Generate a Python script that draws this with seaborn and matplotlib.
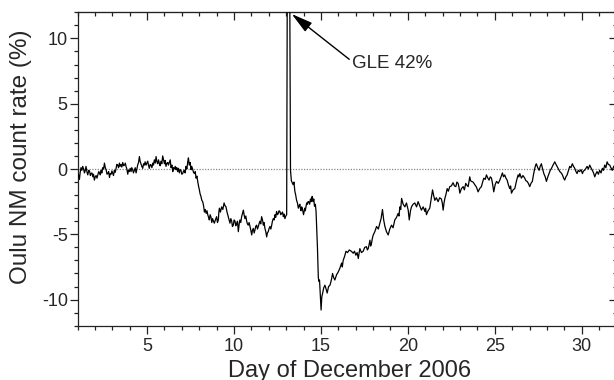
import numpy as np
import pandas as pd
import matplotlib
matplotlib.use("Agg")
import matplotlib.pyplot as plt
from matplotlib.ticker import MultipleLocator
import seaborn as sns

# ---- data (day of December 2006, % change) ----
days_quiet = [1.00, 1.11, 1.20, 1.30, 1.40, 1.49, 1.59, 1.70, 1.78, 1.88, 1.97,
              2.07, 2.17, 2.27, 2.36, 2.45, 2.55, 2.65, 2.74, 2.84, 2.93,
              3.03, 3.12, 3.22, 3.31, 3.41, 3.50, 3.60, 3.70, 3.79, 3.89, 3.98,
              4.08, 4.17, 4.27, 4.37, 4.46, 4.56, 4.65, 4.75, 4.85, 4.94,
              5.04, 5.13, 5.23, 5.33, 5.42, 5.52, 5.61, 5.71, 5.80, 5.90,
              6.00, 6.09, 6.19, 6.28, 6.38, 6.48, 6.57, 6.67, 6.76, 6.86, 6.95,
              7.05, 7.15, 7.24, 7.34, 7.43, 7.53, 7.62, 7.72, 7.82, 7.92]
pct_quiet = [-0.6, -0.8, 0.1, 0.2, -0.3, 0.2, -0.45, -0.2, -0.35, -0.6, -0.85,
             -0.5, -0.45, -0.3, -0.1, 0.1, 0.45, -0.1, -0.35, -0.65, -0.4,
             -0.35, -0.1, 0.05, 0.3, 0.45, 0.35, 0.5, 0.3, 0.2, -0.4, -0.2,
             -0.2, -0.05, -0.1, -0.3, 0.3, 0.95, 0.4, 0.05, 0.3, 0.3,
             0.6, 0.05, 0.3, 0.45, 0.7, 0.95, 0.4, 0.4, 0.6, 1.0,
             0.4, 0.2, 0.5, 0.5, 0.1, -0.2, 0.0, -0.05, -0.2, -0.3, -0.1,
             -0.35, -0.1, 0.2, 0.55, 0.3, -0.05, 0.0, -0.35, -0.7, -1.0]
days_quiet_mid = [1.05, 1.15, 1.25, 1.35, 1.45, 1.54, 1.65, 1.74, 1.83, 1.92,
                  2.02, 2.12, 2.22, 2.31, 2.40, 2.50, 2.60, 2.70, 2.79, 2.88, 2.98,
                  3.07, 3.17, 3.26, 3.36, 3.45, 3.55, 3.65, 3.75, 3.84, 3.93,
                  4.03, 4.12, 4.22, 4.32, 4.41, 4.51, 4.60, 4.70, 4.80, 4.89, 4.99,
                  5.08, 5.18, 5.28, 5.37, 5.47, 5.56, 5.66, 5.75, 5.85, 5.95,
                  6.04, 6.14, 6.23, 6.33, 6.43, 6.52, 6.62, 6.71, 6.81, 6.90,
                  7.00, 7.10, 7.19, 7.29, 7.38, 7.48, 7.57, 7.67, 7.77, 7.87, 7.96]
pct_quiet_mid = [-0.4, -0.3, -0.1, 0.0, -0.1, -0.2, -0.1, -0.5, -0.3, -0.4,
                 -0.6, -0.7, -0.2, -0.45, -0.3, 0.0, 0.1, -0.4, -0.2, -0.35, -0.15,
                 -0.5, -0.25, 0.35, 0.1, 0.2, 0.15, 0.25, 0.45, 0.0, -0.1,
                 0.05, 0.1, -0.3, 0.1, -0.05, 0.5, 0.6, 0.2, 0.4, 0.55, 0.45,
                 0.3, 0.35, 0.1, 0.3, 0.45, 0.6, 0.7, 0.25, 0.4, 0.7,
                 0.65, 0.45, 0.3, 0.7, 0.3, 0.1, 0.2, 0.1, 0.05, -0.05,
                 -0.4, -0.15, -0.3, 0.0, 0.85, 0.5, 0.2, -0.25, -0.2, -0.55, -1.3]

days_fd1 = [8.01, 8.10, 8.20, 8.30, 8.40, 8.49, 8.58, 8.68, 8.77, 8.87,
            9.00, 9.10, 9.16, 9.29, 9.43, 9.54, 9.67, 9.77, 9.87, 9.96,
            10.06, 10.15, 10.25, 10.34, 10.44, 10.54, 10.63, 10.73, 10.82, 10.92,
            11.02, 11.11, 11.21, 11.30, 11.40, 11.49, 11.59, 11.69, 11.78, 11.88,
            11.97, 12.07, 12.17, 12.26, 12.36, 12.45, 12.55, 12.64, 12.74, 12.84,
            12.93, 13.03]
pct_fd1 = [-1.6, -2.1, -2.5, -3.3, -3.4, -3.5, -3.9, -3.7, -3.8, -4.15,
           -3.65, -3.9, -3.0, -2.9, -2.6, -2.9, -3.65, -4.15, -4.0, -4.3,
           -4.0, -4.2, -4.8, -3.9, -3.65, -3.15, -3.8, -4.0, -4.3, -4.4,
           -5.05, -4.55, -4.65, -4.3, -4.4, -4.0, -3.65, -4.3, -4.55, -5.2,
           -4.8, -4.4, -4.3, -3.8, -3.5, -3.25, -3.4, -3.25, -3.4, -3.65,
           -3.8, -3.5]
days_fd1_mid = [8.05, 8.15, 8.25, 8.35, 8.45, 8.54, 8.63, 8.72, 8.82, 8.93,
                9.05, 9.13, 9.22, 9.36, 9.48, 9.60, 9.72, 9.82, 9.91, 10.01,
                10.10, 10.20, 10.30, 10.39, 10.49, 10.58, 10.68, 10.77, 10.87, 10.97,
                11.06, 11.16, 11.25, 11.35, 11.44, 11.54, 11.64, 11.73, 11.83, 11.92,
                12.02, 12.12, 12.21, 12.31, 12.40, 12.50, 12.59, 12.69, 12.79, 12.88,
                12.98]
pct_fd1_mid = [-1.9, -2.4, -2.8, -3.1, -3.2, -3.7, -3.5, -4.1, -4.0, -3.9,
               -4.1, -3.3, -3.3, -3.1, -2.8, -3.3, -3.9, -3.8, -4.4, -3.9,
               -4.35, -4.0, -4.2, -4.1, -3.4, -3.5, -3.6, -4.2, -4.1, -4.7,
               -4.7, -4.9, -4.4, -4.6, -4.2, -4.2, -3.9, -4.1, -4.8, -4.9,
               -4.55, -4.6, -4.0, -3.9, -3.7, -3.5, -3.2, -3.5, -3.3, -3.45,
               -3.6]

days_gle = [13.12]
pct_gle = [42.0]

days_fd2 = [13.25, 13.30, 13.40, 13.50, 13.60, 13.70, 13.79, 13.85, 13.93,
            14.00, 14.07, 14.14, 14.22, 14.30, 14.40, 14.46, 14.55, 14.63, 14.72,
            14.80, 14.85, 14.92, 15.01, 15.10, 15.23, 15.36, 15.52, 15.67, 15.80,
            15.99, 16.19, 16.28, 16.44, 16.63, 16.86, 17.01, 17.15, 17.24, 17.43,
            17.62, 17.72, 17.82, 17.91, 18.01, 18.20, 18.39, 18.54, 18.68, 18.87,
            19.06, 19.25, 19.44, 19.54, 19.64, 19.83, 20.02, 20.08, 20.21, 20.40,
            20.59, 20.78, 20.98, 21.07]
pct_fd2 = [-0.1, -0.9, -1.2, -1.7, -2.4, -3.0, -2.7, -3.2, -3.0,
           -3.5, -3.0, -2.9, -2.7, -2.5, -2.3, -2.25, -2.5, -2.85, -3.25,
           -6.0, -8.3, -8.5, -10.8, -9.5, -8.9, -9.5, -8.9, -8.0, -8.5,
           -7.9, -7.2, -7.0, -6.3, -6.2, -6.45, -6.6, -6.85, -6.1, -6.3,
           -5.95, -6.1, -5.45, -5.7, -5.05, -4.4, -4.15, -3.1, -4.4, -5.05,
           -4.3, -3.9, -3.4, -2.9, -2.25, -2.9, -3.15, -3.9, -2.9, -2.6,
           -2.5, -3.15, -3.25, -3.5]
days_fd2_mid = [13.45, 13.55, 13.65, 13.75, 13.82, 13.89, 13.97, 14.04, 14.10,
                14.18, 14.26, 14.35, 14.43, 14.50, 14.59, 14.68, 14.88, 15.05,
                15.16, 15.30, 15.44, 15.60, 15.73, 15.90, 16.09, 16.23, 16.36,
                16.53, 16.75, 16.93, 17.08, 17.20, 17.33, 17.52, 17.67, 17.77,
                17.86, 17.96, 18.10, 18.30, 18.46, 18.61, 18.77, 18.96, 19.15,
                19.35, 19.49, 19.59, 19.73, 19.92, 20.15, 20.30, 20.50, 20.68,
                20.88, 21.02, 21.16]
pct_fd2_mid = [-1.0, -2.0, -2.6, -2.8, -3.0, -2.9, -3.3, -3.2, -3.2,
               -2.6, -2.5, -2.7, -2.5, -2.1, -2.3, -2.7, -8.6, -9.8,
               -9.1, -9.2, -9.0, -8.5, -8.3, -8.1, -7.6, -7.5, -6.7,
               -6.4, -6.3, -6.3, -6.4, -6.4, -6.4, -6.0, -6.2, -5.8,
               -5.9, -5.3, -4.8, -4.6, -3.8, -3.9, -4.8, -4.6, -4.5,
               -3.7, -3.6, -3.1, -2.7, -2.6, -3.2, -2.7, -2.9, -2.8,
               -2.9, -3.0, -3.2]

days_rec = [21.26, 21.42, 21.55, 21.74, 21.93, 22.03, 22.13, 22.26, 22.41, 22.60,
            22.76, 22.89, 22.99, 23.18, 23.33, 23.47, 23.56, 23.66, 23.85, 24.04,
            24.23, 24.37, 24.52, 24.67, 24.81, 24.94, 25.10, 25.29, 25.44, 25.57,
            25.71, 25.86, 25.96, 26.15, 26.34, 26.44, 26.53, 26.72, 26.86, 27.01,
            27.16, 27.30, 27.39, 27.55, 27.68, 27.82, 27.97, 28.12, 28.26, 28.45,
            28.58, 28.74, 28.89, 29.02, 29.16, 29.31, 29.46, 29.60, 29.73, 29.88,
            30.04, 30.17, 30.31, 30.46, 30.61, 30.75, 30.88, 31.03, 31.19, 31.32,
            31.46, 31.61, 31.76, 31.84, 32.0]
pct_rec = [-3.0, -1.6, -2.4, -2.5, -2.3, -3.15, -2.25, -1.5, -1.35, -1.05,
           -1.35, -1.1, -1.85, -1.35, -1.1, -1.35, -0.6, -0.95, -1.2, -1.75,
           -1.35, -0.7, -0.45, -0.85, -0.7, -1.75, -0.95, -0.85, -0.3, -0.45,
           -0.85, -1.5, -1.85, -1.5, -0.45, -0.35, -0.7, -0.7, -0.95, -1.35,
           -0.95, 0.05, 0.4, -0.1, 0.4, -0.35, -0.95, -0.35, 0.05, 0.55,
           0.2, -0.2, -0.45, -0.85, -0.45, 0.2, 0.4, 0.05, -0.35, -0.2,
           -0.35, -0.1, 0.2, 0.3, -0.1, -0.6, -0.2, -0.1, 0.05, 0.3,
           0.55, 0.3, -0.1, 0.2, 0.1]
days_rec_mid = [21.34, 21.48, 21.64, 21.83, 21.98, 22.08, 22.20, 22.33, 22.50, 22.68,
                22.82, 22.94, 23.08, 23.25, 23.40, 23.51, 23.61, 23.75, 23.95, 24.13,
                24.30, 24.45, 24.60, 24.74, 24.88, 25.02, 25.20, 25.36, 25.50, 25.64,
                25.78, 25.91, 26.05, 26.25, 26.39, 26.48, 26.62, 26.79, 26.93, 27.08,
                27.23, 27.35, 27.47, 27.61, 27.75, 27.90, 28.05, 28.19, 28.35, 28.52,
                28.66, 28.82, 28.96, 29.09, 29.24, 29.38, 29.53, 29.67, 29.80, 29.96,
                30.10, 30.24, 30.38, 30.53, 30.68, 30.82, 30.96, 31.11, 31.25, 31.39,
                31.53, 31.68, 31.80, 31.92]
pct_rec_mid = [-2.3, -2.0, -2.2, -2.2, -2.6, -2.6, -1.9, -1.7, -1.3, -1.3,
               -1.0, -1.4, -1.5, -1.6, -1.25, -1.0, -0.9, -1.0, -1.4, -1.5,
               -1.0, -0.8, -0.7, -0.6, -1.2, -1.2, -1.1, -0.6, -0.6, -0.7,
               -1.2, -1.3, -1.6, -0.9, -0.6, -0.5, -0.5, -0.9, -1.1, -1.1,
               -0.4, 0.3, 0.1, 0.2, 0.0, -0.6, -0.6, -0.1, 0.3, 0.35,
               0.0, -0.3, -0.7, -0.6, -0.1, 0.1, 0.2, -0.2, -0.1, -0.05,
               -0.15, 0.05, 0.0, 0.1, -0.3, -0.35, -0.4, -0.3, -0.1, 0.1,
               0.35, 0.1, 0.05, 0.3]

x_major_ticks = [5, 10, 15, 20, 25, 30]
y_major_ticks = [-10, -5, 0, 5, 10]
x_label = "Day of December 2006"
y_label = "Oulu NM count rate (%)"
annotation = "GLE 42%"

df = pd.DataFrame({
    "day": (days_quiet + days_quiet_mid + days_fd1 + days_fd1_mid + days_gle
            + days_fd2 + days_fd2_mid + days_rec + days_rec_mid),
    "pct": (pct_quiet + pct_quiet_mid + pct_fd1 + pct_fd1_mid + pct_gle
            + pct_fd2 + pct_fd2_mid + pct_rec + pct_rec_mid),
}).sort_values("day")

sns.set_style("ticks")
plt.rcParams["font.family"] = ["Liberation Sans", "DejaVu Sans"]
plt.rcParams["axes.unicode_minus"] = False

fig = plt.figure(figsize=(6.14, 3.80), dpi=100)
ax = fig.add_axes([77.5 / 614, 1 - 325.7 / 380, (616.5 - 77.5) / 614, (325.7 - 12.3) / 380])

ax.axhline(0, color="#888888", lw=0.9, ls=(0, (1, 1.2)), zorder=1)
sns.lineplot(data=df, x="day", y="pct", ax=ax, color="black", lw=0.9,
             estimator=None, sort=False, zorder=3)

ax.set_xlim(1, 32)
ax.set_ylim(-12, 12)
ax.set_xticks(x_major_ticks)
ax.set_yticks(y_major_ticks)
ax.xaxis.set_minor_locator(MultipleLocator(1))
ax.yaxis.set_minor_locator(MultipleLocator(1))
ax.tick_params(which="major", direction="out", length=6, width=0.9, labelsize=13,
               color="#222222")
ax.tick_params(which="minor", direction="out", length=3, width=0.9, color="#222222")
ax.tick_params(axis="x", which="major", pad=2.5)
ax.tick_params(axis="y", which="major", pad=1)

secx = ax.secondary_xaxis("top")
secx.set_xticks(x_major_ticks)
secx.xaxis.set_minor_locator(MultipleLocator(1))
secx.tick_params(which="major", direction="in", length=6, width=0.9, labeltop=False, color="#222222")
secx.tick_params(which="minor", direction="in", length=3, width=0.9, color="#222222")
secy = ax.secondary_yaxis("right")
secy.set_yticks(y_major_ticks)
secy.yaxis.set_minor_locator(MultipleLocator(1))
secy.tick_params(which="major", direction="in", length=6, width=0.9, labelright=False, color="#222222")
secy.tick_params(which="minor", direction="in", length=3, width=0.9, color="#222222")

for sp in ax.spines.values():
    sp.set_linewidth(0.9)
    sp.set_color("#222222")

ax.set_xlabel(x_label, fontsize=17)
ax.set_ylabel(y_label, fontsize=17.5)
ax.xaxis.set_label_coords(0.504, -0.108)
ax.yaxis.set_label_coords(-0.085, 0.538)

ax.annotate("", xy=(13.32, 11.87), xytext=(16.63, 8.4),
            arrowprops=dict(arrowstyle="-|>,head_length=0.65,head_width=0.17",
                            mutation_scale=20, color="black", lw=1.0,
                            shrinkA=0, shrinkB=0))
ax.text(16.78, 8.1, annotation, fontsize=13.5, va="center", ha="left")

fig.savefig("out.png", dpi=100)
